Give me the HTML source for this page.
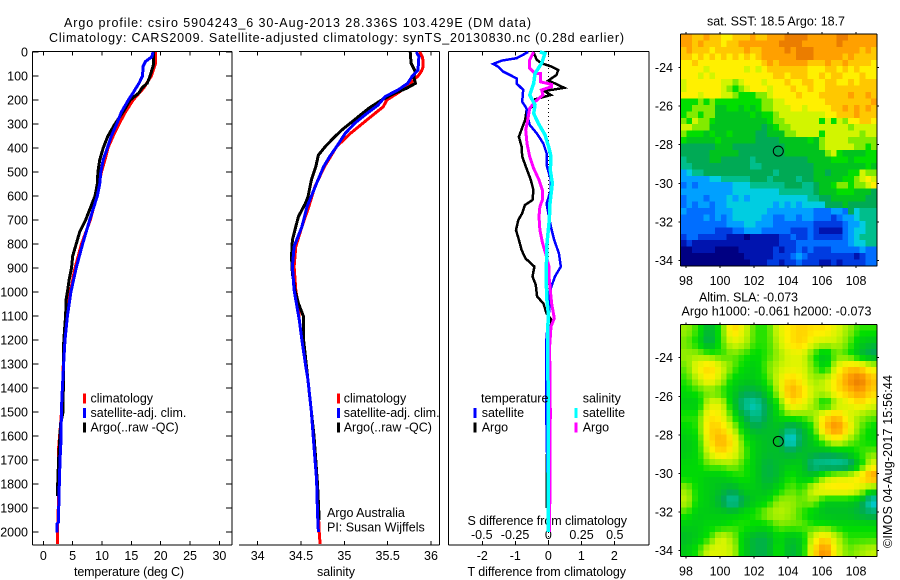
<!DOCTYPE html>
<html>
<head>
<meta charset="utf-8">
<title>Argo profile 5904243_6</title>
<style>
html,body{margin:0;padding:0;background:#fff;width:900px;height:580px;overflow:hidden}
svg{display:block}
text{font-family:"Liberation Sans",sans-serif;font-size:12.5px;fill:#000}
</style>
</head>
<body>
<svg id="fig" xmlns="http://www.w3.org/2000/svg" width="900" height="580" viewBox="0 0 900 580">
<rect width="900" height="580" fill="#fff"/>
<text x="64" y="27" textLength="467">Argo profile: csiro 5904243_6 30-Aug-2013 28.336S 103.429E (DM data)</text>
<text x="49" y="42" textLength="575">Climatology: CARS2009. Satellite-adjusted climatology: synTS_20130830.nc (0.28d earlier)</text>
<text x="74" y="576" textLength="110">temperature (deg C)</text>
<text x="317" y="576" textLength="38">salinity</text>
<text x="467.5" y="576" textLength="158.5">T difference from climatology</text>
<text x="467.5" y="525" textLength="159.5">S difference from climatology</text>
<text x="327" y="517">Argo Australia</text>
<text x="327" y="531.5">PI: Susan Wijffels</text>
<text x="707" y="25.5" textLength="138">sat. SST: 18.5 Argo: 18.7</text>
<text x="699" y="301.5" textLength="99">Altim. SLA: -0.073</text>
<text x="681.5" y="315.5" textLength="190">Argo h1000: -0.061 h2000: -0.073</text>
<text transform="translate(892,548) rotate(-90)" textLength="173">©IMOS 04-Aug-2017 15:56:44</text>
<g id="layer"></g>
</svg>
<script>
// ---------- axis ticks ----------
const depthTicks = [0,100,200,300,400,500,600,700,800,900,1000,1100,1200,1300,1400,1500,1600,1700,1800,1900,2000];
const tempTicks = [0,5,10,15,20,25,30];
const salTicks = [34,34.5,35,35.5,36];
const tDiffTicks = [-2,-1,0,1,2];
const sDiffTicks = [-0.5,-0.25,0,0.25,0.5];
const sDiffLabels = ['-0.5','-0.25','0','0.25','0.5'];
const lonTicks = [98,100,102,104,106,108];
const latTicks = [-24,-26,-28,-30,-32,-34];
const legendLabels = ['climatology','satellite-adj. clim.','Argo(..raw -QC)'];

// ---------- temperature profiles ----------
const climTempDepth = [0,50,100,150,200,250,300,350,400,450,500,550,600,700,800,900,1000,1100,1200,1300,1400,1500,1550,1650,1700,1800,1900,2000,2050];
const climTempValue = [19.1,19.1,18.4,17.1,15.3,14,12.9,11.9,11,10.5,9.9,9.5,9.1,8,6.5,5.4,4.6,4,3.6,3.4,3.3,3.1,2.95,2.6,2.55,2.6,2.55,2.4,2.4];
const satTempDepth = [0,20,40,60,100,130,170,200,250,300,350,400,450,500,550,600,700,800,900,1000,1100,1200,1300,1400,1500,1600,1700,1800,1900,1960,1965,2003];
const satTempValue = [18.7,18.5,17.4,17,16.9,16.3,15.3,14.5,13.3,12.5,11.6,10.9,10.2,9.8,9.6,9.2,7.9,6.7,5.6,4.7,4.1,3.7,3.45,3.25,3.07,3.05,2.85,2.73,2.62,2.55,2.35,2.35];
const argoTempDepth = [0,50,100,130,150,170,200,250,300,350,400,450,500,550,600,650,700,750,800,850,900,950,1000,1030,1100,1200,1300,1400,1500,1550,1700,1800,1850];
const argoTempValue = [18.8,18.8,18.2,17.7,16.8,16.3,14.8,13.6,12.2,11,10.2,9.6,9.3,9.2,8.8,8,7.2,6.2,5.6,5,4.8,4.4,4.1,3.9,3.8,3.5,3.4,3.4,3.35,2.95,2.6,2.45,2.4];

// ---------- salinity profiles ----------
const climSalDepth = [0,20,40,60,80,100,150,170,200,228,283,339,394,478,561,644,728,811,894,992,1061,1117,1200,1300,1367,1500,1644,1783,1922,2000,2050];
const climSalValue = [35.87,35.9,35.91,35.91,35.89,35.85,35.7,35.62,35.49,35.45,35.26,35.07,34.91,34.77,34.66,34.59,34.51,34.44,34.42,34.44,34.47,34.48,34.51,34.55,34.58,34.62,34.65,34.68,34.7,34.71,34.72];
const satSalDepth = [0,19,75,103,131,158,186,221,256,297,339,394,436,478,547,644,728,811,894,992,1117,1200,1300,1367,1500,1644,1783,1922,2000];
const satSalValue = [35.83,35.86,35.85,35.78,35.73,35.62,35.47,35.39,35.26,35.12,35.01,34.91,34.83,34.76,34.68,34.57,34.51,34.42,34.4,34.42,34.48,34.51,34.55,34.58,34.62,34.65,34.68,34.69,34.7];
const argoSalDepth = [0,47,82,103,131,151,172,200,235,276,325,360,394,429,478,533,603,631,686,728,783,853,922,992,1047,1103,1200,1300,1400,1600,1800,1950];
const argoSalValue = [35.76,35.77,35.82,35.8,35.82,35.72,35.58,35.43,35.28,35.14,34.97,34.87,34.78,34.7,34.67,34.62,34.58,34.55,34.47,34.44,34.4,34.39,34.4,34.43,34.47,34.53,34.53,34.56,34.59,34.65,34.69,34.71];

// ---------- difference profiles ----------
const satTDiffDepth = [0,26,36,50,61,82,96,110,131,158,207,235,269,304,339,381,422,471,533,575,631,672,728,783,839,894,936,1006,1047,1117,1186,1242,1300,1600,2000];
const satTDiffValue = [-0.61,-0.96,-1.41,-1.67,-1.52,-1.36,-1.16,-0.96,-0.96,-0.76,-0.79,-0.66,-0.63,-0.56,-0.35,-0.15,-0.05,-0.05,0.08,0.08,-0.05,0,0.08,0.18,0.32,0.38,0.2,0.02,0.05,0,-0.05,-0.07,-0.07,-0.05,0.02];
const argoTDiffDepth = [0,33,47,61,75,96,119,131,149,158,161,179,197,221,245,283,304,353,394,436,485,533,575,617,638,672,700,742,783,825,860,894,936,971,1019,1047,1089,1117,1172,1214,1500,1700,1900];
const argoTDiffValue = [-0.45,-0.35,-0.2,0.1,0.3,0.25,0,0.2,0.48,0.1,-0.15,0.08,-0.4,-0.42,-0.66,-0.7,-0.76,-0.89,-0.81,-0.79,-0.66,-0.53,-0.45,-0.48,-0.71,-0.79,-0.91,-0.98,-0.89,-0.81,-0.69,-0.42,-0.48,-0.38,-0.34,-0.15,-0.05,0.1,0.05,0,0.05,-0.05,-0.05];
const argoSDiffDepth = [0,33,68,89,90,124,135,144,158,179,207,235,283,325,381,436,485,533,575,617,644,686,742,797,839,894,936,978,1047,1109,1144,1228,1500,2000];
const argoSDiffValue = [-0.11,-0.14,-0.14,-0.1,-0.06,-0.06,0.025,0.025,-0.05,-0.04,-0.1,-0.14,-0.155,-0.17,-0.16,-0.14,-0.11,-0.07,-0.045,-0.045,-0.063,-0.07,-0.063,-0.043,-0.02,0.005,0.005,0.0125,0.025,0.045,0.02,0.01,0.015,0.01];
const satSDiffDepth = [0,6,47,89,131,179,221,256,297,345,400,436,492,547,631,700,797,908,1019,1089,1186,1500,2000];
const satSDiffValue = [-0.063,-0.025,-0.05,-0.1,-0.11,-0.14,-0.1,-0.11,-0.075,-0.025,0.005,0.02,0.015,0.03,0.0125,0.0075,-0.01,-0.015,-0.0125,0,-0.005,0,0];

// ---------- profile position ----------
const argoLon = 103.429;
const argoLat = -28.336;

// ---------- SST map (colour level per cell, north to south) ----------
const sstRows = [
[14,14,13,13,14,13,13,12,12,13,13,13,14,13,13,14,14,14,15,15,15,15,14,14,14,14,14,15,15,14,14,14,14,14],
[14,14,13,14,13,13,13,12,13,13,14,14,14,14,14,14,14,15,15,15,15,14,14,14,14,14,14,15,14,14,14,14,14,14],
[13,14,13,13,13,12,13,13,13,13,13,14,13,13,14,14,14,14,15,14,15,15,15,14,14,14,14,14,14,14,14,13,14,13],
[13,13,12,13,12,13,12,13,12,13,12,13,12,13,14,14,14,14,14,14,15,15,15,14,14,14,14,14,13,14,13,13,13,13],
[12,12,13,12,12,12,12,12,12,12,12,12,12,12,13,14,13,14,14,14,14,14,13,13,13,14,13,13,14,13,13,13,13,12],
[12,12,12,12,11,12,12,12,12,12,12,11,12,11,12,13,13,13,13,13,13,13,12,12,12,13,13,12,13,12,13,12,12,12],
[12,12,12,11,12,11,12,12,12,12,12,12,12,12,12,12,13,13,12,13,13,13,12,12,13,12,13,13,12,12,12,13,12,12],
[11,12,12,12,12,12,12,11,11,10,11,12,12,12,11,12,12,12,13,12,12,13,13,12,12,13,13,12,12,13,12,13,13,13],
[11,12,12,12,12,12,12,11,10,9,10,11,12,12,12,11,12,12,12,13,12,12,13,12,12,13,13,13,13,13,13,13,13,13],
[12,12,12,11,12,12,12,11,11,10,9,9,9,10,10,11,12,12,12,12,13,12,12,12,13,13,13,13,13,14,13,13,14,13],
[9,9,9,10,9,10,9,9,9,9,9,9,9,9,10,10,11,11,12,12,12,12,12,12,12,13,13,13,13,13,13,13,13,14],
[9,9,10,10,10,10,8,8,9,9,8,9,8,9,10,10,11,11,11,12,12,11,12,12,12,12,13,13,14,13,14,13,14,13],
[9,10,10,9,10,10,8,8,8,8,8,8,9,8,9,9,10,11,11,11,11,11,11,11,11,12,12,13,13,13,14,13,13,13],
[10,9,11,10,10,9,8,8,8,8,8,8,8,8,8,9,10,10,11,11,11,11,11,11,9,11,9,11,10,12,12,13,13,12],
[11,11,10,10,10,8,8,8,8,8,8,8,8,8,7,8,9,10,10,11,11,11,11,11,11,11,11,11,11,10,11,11,11,11],
[10,9,9,9,8,9,8,8,9,8,8,8,8,7,7,8,8,8,10,10,11,11,11,11,9,11,11,11,11,11,11,10,11,11],
[9,8,8,8,8,8,9,8,8,8,8,8,8,7,7,7,7,8,8,8,8,8,9,8,10,11,11,11,11,10,10,10,10,10],
[7,7,7,7,7,7,8,8,8,7,7,7,7,7,7,7,7,7,8,8,8,8,8,8,10,11,11,11,11,11,10,10,9,10],
[7,7,7,7,7,8,8,8,8,8,7,7,7,7,7,7,7,7,8,8,8,8,8,8,8,10,11,9,8,8,8,8,9,9],
[6,7,7,7,7,8,8,7,7,7,7,7,6,7,7,7,7,7,7,7,7,7,8,8,8,8,9,9,9,8,9,9,9,9],
[6,6,7,7,7,7,7,7,7,7,7,7,6,6,7,7,7,7,7,7,7,7,7,8,8,8,8,8,8,8,8,8,9,8],
[4,5,6,6,7,7,7,7,7,7,7,7,7,7,7,7,6,7,7,7,7,7,7,8,8,7,8,8,8,9,9,11,10,10],
[4,4,4,4,4,5,5,6,6,6,6,6,7,7,7,6,7,7,7,7,6,7,7,8,8,8,8,8,9,9,10,11,12,11],
[3,4,3,4,4,4,4,4,4,5,5,5,6,6,6,6,6,6,7,7,7,6,6,7,8,8,9,10,10,9,10,10,11,12],
[4,4,4,4,4,4,4,4,4,5,5,5,5,5,5,5,5,6,6,6,6,6,6,7,8,8,8,9,9,9,8,8,8,7],
[3,4,4,4,3,4,4,4,5,4,5,4,5,5,5,5,5,5,5,5,5,5,6,6,7,7,8,8,8,8,8,8,7,7],
[3,4,3,4,4,3,4,4,5,5,5,5,5,5,5,5,4,5,4,5,4,5,5,5,5,7,7,7,8,7,7,7,7,7],
[4,3,3,3,3,3,4,4,4,5,5,5,5,5,5,4,4,4,4,4,4,4,4,3,3,3,4,4,3,7,5,6,6,6],
[3,3,3,3,4,3,4,3,4,5,5,5,5,5,4,4,3,3,4,4,3,4,4,3,3,3,2,3,4,4,5,6,6,6],
[3,3,3,3,3,3,3,3,4,4,4,5,5,4,4,4,3,3,3,3,3,3,3,2,2,2,2,2,3,4,4,5,6,6],
[3,3,3,3,3,3,2,2,2,3,3,4,4,4,3,3,3,3,3,2,2,2,3,2,1,1,1,1,3,4,5,5,6,6],
[2,3,3,2,2,2,2,2,1,1,1,0,1,1,1,1,1,2,2,3,2,2,3,2,2,2,2,2,3,4,5,6,6,6],
[1,2,1,1,1,1,1,1,1,1,1,1,1,1,1,1,1,2,2,2,3,3,3,3,3,3,3,3,3,4,5,5,6,6],
[0,0,1,1,1,1,0,0,0,0,1,1,1,1,1,1,2,1,2,2,3,2,3,2,2,2,3,3,3,3,3,4,3,3],
[0,0,0,0,0,0,0,0,0,0,0,1,1,1,1,1,2,2,2,3,4,3,2,2,2,2,2,2,2,2,1,2,3,3],
[0,0,0,0,0,0,0,0,0,0,0,0,1,1,1,2,2,1,2,2,3,2,2,2,1,1,2,1,2,2,2,2,3,3]
];

// ---------- SLA map (colour level at grid nodes, north to south) ----------
const slaRows = [
[10,9,7,9,12.5,11,9,9,11,12,12.5,12,12,11,10,9,9],
[9.5,8.5,6.5,9,11,10.5,9,9,10.5,12,12.5,11,10.5,10.5,9.5,8,7.5],
[10,10,9.5,9,9.5,9,8.5,9,10,11,11,9,7.5,9.5,9,7.5,6.5],
[9.5,11.5,12.5,11,9.5,8.5,8,9.5,10.5,11,11,9.5,8,11,12.5,12.5,11],
[9,10.5,12,10.5,8.5,8,8,9,11,12.5,11.5,10,10.5,12,14,15,13],
[8.5,9,9.5,9,8,7,7,8,10.5,13.5,12.5,10.5,10.5,12,13,14,12.5],
[8,8,11,11,8,5.5,5,7,9,12,11.5,10,8,10,11,12,11],
[9,9,12,11.5,9,7,5.5,7,8.5,9.5,9.5,10,12,13,11,10,9.5],
[8.5,9,12.5,12.5,10.5,8,7,7.5,7.5,6,7,9,13,14.5,12,9.5,8.5],
[8,8.5,12,13.5,12,9,8,7.5,7.5,4,7,8,10,11.5,10,9,8.5],
[8,8.5,11,12.5,11.5,9.5,8,7.5,7.5,7,7.5,7.5,7,7.5,8,9,9.5],
[8.5,8.5,9.5,9.5,10,9,8,7,7.5,8,8,5.5,5.5,5,5.5,8,11],
[8.5,8.5,8,8,8.5,9,8,7,7.5,9,8,8,10,11,11,12,14],
[10,8.5,8,7.5,7,8,8,7.5,8.5,9.5,9,11,12,12,12,11,9],
[10.5,8.5,8,7,5,7,8,8.5,10,10,9.5,10,8,8,8,7.5,4.5],
[9,8,8,8,8,8.5,9,10,10.5,10,9,8,7.5,7.5,7.5,7,6.5],
[8,8,8.5,8.5,9,9,8.5,8.5,9.5,9.5,9.5,9,9,8.5,8.5,8.5,8.5],
[7.5,8,9,11,10,8,7,7,8.5,7.5,8,11,12.5,10.5,9,9,9],
[8,9,11,11,10.5,8,7,7,9,7,8,12,14.5,11,9.5,10,10.5]
];

const palette = [[0,0,130],[0,20,175],[0,60,225],[0,110,255],[0,160,255],[0,205,225],[0,190,140],[0,170,85],[0,195,30],[0,222,0],[130,235,0],[210,245,0],[255,240,0],[255,200,0],[255,160,0],[235,125,0]];

// ---------- axis functions ----------
const yDepth = d => 52 + 0.24 * d;
const xTemp = t => 43.3 + 5.87 * t;
const xSal = s => 257.7 + 86.65 * (s - 34);
const xTDiff = t => 548.3 + 33 * t;
const xSDiff = s => 548.3 + 133 * s;
const xLon = lon => 686 + 17 * (lon - 98);
const ySst = lat => 67.3 + 19.33 * (-24 - lat);
const ySla = lat => 357.7 + 19.3 * (-24 - lat);

const NS = 'http://www.w3.org/2000/svg';
const layer = document.getElementById('layer');
function make(tag, attrs, parent) {
  const el = document.createElementNS(NS, tag);
  for (const k in attrs) el.setAttribute(k, attrs[k]);
  (parent || layer).appendChild(el);
  return el;
}
function seg(x1, y1, x2, y2, parent) {
  return make('line', {x1: x1, y1: y1, x2: x2, y2: y2, stroke: '#000', 'stroke-width': 1, 'shape-rendering': 'crispEdges'}, parent);
}
function label(str, x, y, anchor, parent) {
  const el = make('text', {x: x, y: y, 'text-anchor': anchor}, parent);
  el.textContent = str;
  return el;
}
function colourAt(v) {
  const c = Math.max(0, Math.min(palette.length - 1, v));
  const i = Math.min(palette.length - 2, Math.floor(c));
  const f = c - i;
  const m = j => Math.round(palette[i][j] + (palette[i + 1][j] - palette[i][j]) * f);
  return 'rgb(' + m(0) + ',' + m(1) + ',' + m(2) + ')';
}
function profile(name, depths, values, xFn, colour, width, parent) {
  const pts = depths.map((d, i) => xFn(values[i]).toFixed(1) + ',' + yDepth(d).toFixed(1)).join(' ');
  const el = make('polyline', {points: pts, fill: 'none', stroke: colour, 'stroke-width': width, 'stroke-linejoin': 'miter', 'shape-rendering': 'crispEdges'}, parent);
  
  
  return el;
}
function legendEntry(name, text, barX, textX, baseline, colour) {
  const g = make('g', {});
  
  
  make('rect', {x: barX, y: baseline - 9, width: 3, height: 10, fill: colour, 'shape-rendering': 'crispEdges'}, g);
  label(text, textX, baseline, 'start', g);
}

// ---------- temperature panel ----------
const tempAxis = make('g', {});


seg(32.5, 51.5, 232, 51.5, tempAxis);
seg(32.5, 545, 232, 545, tempAxis);
seg(32.5, 51.5, 32.5, 545, tempAxis);
seg(232, 51.5, 232, 545, tempAxis);
depthTicks.forEach(d => {
  seg(32.5, yDepth(d), 38.5, yDepth(d), tempAxis);
  seg(226, yDepth(d), 232, yDepth(d), tempAxis);
  label(String(d), 28, yDepth(d) + 4.5, 'end', tempAxis);
});
tempTicks.forEach(t => {
  seg(xTemp(t), 51.5, xTemp(t), 55.5, tempAxis);
  seg(xTemp(t), 541, xTemp(t), 545, tempAxis);
  label(String(t), xTemp(t), 560, 'middle', tempAxis);
});
profile('temperature-climatology-line', climTempDepth, climTempValue, xTemp, '#ff0000', 3);
profile('temperature-argo-line', argoTempDepth, argoTempValue, xTemp, '#000000', 3);
profile('temperature-satellite-line', satTempDepth, satTempValue, xTemp, '#0000ff', 3);
legendEntry('temperature-legend-climatology', legendLabels[0], 83, 90.5, 402.7, '#ff0000');
legendEntry('temperature-legend-satellite', legendLabels[1], 83, 90.5, 417, '#0000ff');
legendEntry('temperature-legend-argo', legendLabels[2], 83, 90.5, 431.3, '#000000');

// ---------- salinity panel ----------
const salAxis = make('g', {});


seg(239, 51.5, 439.5, 51.5, salAxis);
seg(239, 545, 439.5, 545, salAxis);
seg(439.5, 51.5, 439.5, 545, salAxis);
salTicks.forEach(s => {
  seg(xSal(s), 51.5, xSal(s), 55.5, salAxis);
  seg(xSal(s), 541, xSal(s), 545, salAxis);
  label(String(s), xSal(s), 560, 'middle', salAxis);
});
profile('salinity-climatology-line', climSalDepth, climSalValue, xSal, '#ff0000', 3);
profile('salinity-argo-line', argoSalDepth, argoSalValue, xSal, '#000000', 3);
profile('salinity-satellite-line', satSalDepth, satSalValue, xSal, '#0000ff', 3);
legendEntry('salinity-legend-climatology', legendLabels[0], 337, 343.7, 402.7, '#ff0000');
legendEntry('salinity-legend-satellite', legendLabels[1], 337, 343.7, 417, '#0000ff');
legendEntry('salinity-legend-argo', legendLabels[2], 337, 343.7, 431.3, '#000000');

// ---------- difference panel ----------
const diffAxis = make('g', {});


seg(448.5, 51.5, 649, 51.5, diffAxis);
seg(448.5, 545, 649, 545, diffAxis);
seg(448.5, 51.5, 448.5, 545, diffAxis);
seg(649, 51.5, 649, 545, diffAxis);
tDiffTicks.forEach(t => {
  seg(xTDiff(t), 51.5, xTDiff(t), 55.5, diffAxis);
  seg(xTDiff(t), 541, xTDiff(t), 545, diffAxis);
  label(String(t), xTDiff(t), 560, 'middle', diffAxis);
});
sDiffTicks.forEach((s, i) => {
  label(sDiffLabels[i], xSDiff(s), 539, 'middle', diffAxis);
});
const zeroLine = make('line', {x1: 548.5, y1: 52, x2: 548.5, y2: 545, stroke: '#000', 'stroke-width': 1, 'stroke-dasharray': '1 3', 'shape-rendering': 'crispEdges'});


profile('t-difference-argo-line', argoTDiffDepth, argoTDiffValue, xTDiff, '#000000', 2.5);
profile('t-difference-satellite-line', satTDiffDepth, satTDiffValue, xTDiff, '#0000ff', 2.5);
profile('s-difference-argo-line', argoSDiffDepth, argoSDiffValue, xSDiff, '#ff00ff', 3);
profile('s-difference-satellite-line', satSDiffDepth, satSDiffValue, xSDiff, '#00ffff', 3.5);
const tHeading = label('temperature', 481, 402.7, 'start');


const sHeading = label('salinity', 582.7, 402.7, 'start');


legendEntry('difference-legend-t-satellite', 'satellite', 473.3, 481.7, 417, '#0000ff');
legendEntry('difference-legend-t-argo', 'Argo', 473.3, 481.7, 431.3, '#000000');
legendEntry('difference-legend-s-satellite', 'satellite', 574.5, 582.7, 417, '#00ffff');
legendEntry('difference-legend-s-argo', 'Argo', 574.5, 582.7, 431.3, '#ff00ff');

// ---------- maps ----------
const mapLeft = 680.5, mapRight = 877;
function mapFrame(name, top, bottom, yFn) {
  const g = make('g', {});
  
  
  seg(mapLeft, top, mapRight, top, g);
  seg(mapLeft, bottom, mapRight, bottom, g);
  seg(mapLeft, top, mapLeft, bottom, g);
  seg(mapRight, top, mapRight, bottom, g);
  lonTicks.forEach(lon => {
    seg(xLon(lon), top - 2, xLon(lon), top, g);
    seg(xLon(lon), bottom, xLon(lon), bottom + 2, g);
    label(String(lon), xLon(lon), bottom + 19, 'middle', g);
  });
  latTicks.forEach(lat => {
    seg(mapLeft - 2, yFn(lat), mapLeft, yFn(lat), g);
    seg(mapRight, yFn(lat), mapRight + 2, yFn(lat), g);
    label(String(lat), 673, yFn(lat) + 4.5, 'end', g);
  });
}
function argoMarker(name, yFn) {
  const c = make('circle', {cx: xLon(argoLon), cy: yFn(argoLat), r: 5, fill: 'none', stroke: '#000', 'stroke-width': 1});
  
  
}

// SST cells
const sstTop = 34, sstBottom = 266;
const sstGroup = make('g', {'shape-rendering': 'crispEdges'});


const sstCols = sstRows[0].length;
const cellW = (mapRight - mapLeft) / sstCols;
const cellH = (sstBottom - sstTop) / sstRows.length;
sstRows.forEach((row, r) => {
  row.forEach((v, c) => {
    const cell = make('rect', {x: mapLeft + c * cellW, y: sstTop + r * cellH, width: cellW + 0.5, height: cellH + 0.5, fill: colourAt(v)}, sstGroup);
    
    
  });
});
mapFrame('sst-map-axes', sstTop, sstBottom, ySst);
argoMarker('sst-argo-marker', ySst);

// SLA cells: node values resampled on to the finer display grid
const slaTop = 324.5, slaBottom = 556.5;
const slaLevelOffset = 0.3;
const slaGroup = make('g', {'shape-rendering': 'crispEdges'});


const slaDisplayCols = 2 * slaRows[0].length;
const slaDisplayRows = 2 * slaRows.length;
const slaW = (mapRight - mapLeft) / slaDisplayCols;
const slaH = (slaBottom - slaTop) / slaDisplayRows;
function slaSample(u, v) {
  const nr = slaRows.length, nc = slaRows[0].length;
  const gx = Math.max(0, Math.min(nc - 1.001, u * nc - 0.5));
  const gy = Math.max(0, Math.min(nr - 1.001, v * nr - 0.5));
  const ix = Math.floor(gx), iy = Math.floor(gy), fx = gx - ix, fy = gy - iy;
  return (slaRows[iy][ix] * (1 - fx) + slaRows[iy][ix + 1] * fx) * (1 - fy) +
         (slaRows[iy + 1][ix] * (1 - fx) + slaRows[iy + 1][ix + 1] * fx) * fy;
}
for (let r = 0; r < slaDisplayRows; r++) {
  for (let c = 0; c < slaDisplayCols; c++) {
    const v = slaSample((c + 0.5) / slaDisplayCols, (r + 0.5) / slaDisplayRows) + slaLevelOffset;
    const cell = make('rect', {x: mapLeft + c * slaW, y: slaTop + r * slaH, width: slaW + 0.5, height: slaH + 0.5, fill: colourAt(v)}, slaGroup);
    
    
  }
}
mapFrame('sla-map-axes', slaTop, slaBottom, ySla);
argoMarker('sla-argo-marker', ySla);
</script>
</body>
</html>
